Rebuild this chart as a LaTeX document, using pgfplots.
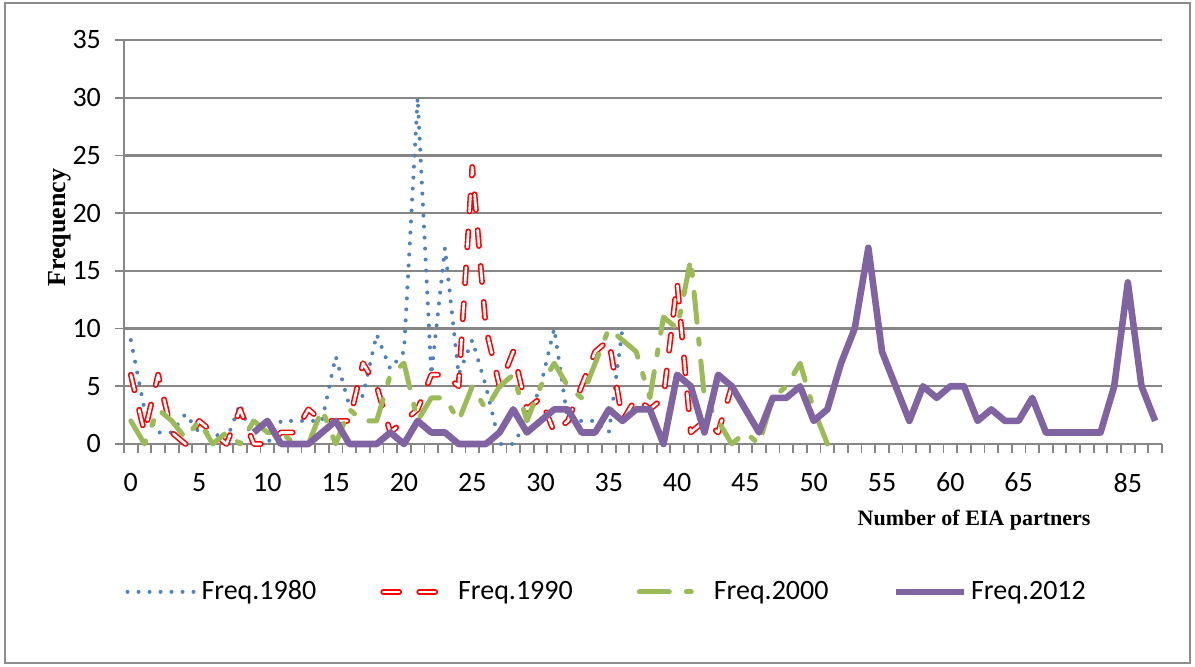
\documentclass[border=0pt]{standalone}
\usepackage{fontspec}
\setmainfont{Carlito}
\newfontfamily\serifbf{Liberation Serif}
\usepackage{pgfplots}
\pgfplotsset{compat=1.18}

\definecolor{c1980}{HTML}{4F81BD}
\definecolor{c1990}{HTML}{FF0000}
\definecolor{c2000}{HTML}{9BBB59}
\definecolor{c2012}{HTML}{8064A2}
\definecolor{gridgray}{HTML}{868686}
\definecolor{framegray}{HTML}{8C8C8C}

\begin{document}
\begin{tikzpicture}
% page frame, 1px = 0.5pt
\path (0pt,0pt) rectangle (597.5pt,-333.5pt);
\draw[framegray, line width=1pt] (2.5pt,-1.5pt) rectangle (595pt,-331.5pt);
\begin{axis}[
    at={(62pt,-222pt)}, anchor=south west,
    scale only axis, width=519pt, height=202pt,
    xmin=-0.5, xmax=75.5, ymin=0, ymax=35,
    axis lines=left,
    axis line style={-, draw=gridgray, line width=1.1pt},
    xtick={0,5,10,15,20,25,30,35,40,45,50,55,60,65,73},
    xticklabels={0,5,10,15,20,25,30,35,40,45,50,55,60,65,85},
    ytick={0,5,...,35},
    minor xtick={-0.5,0.5,...,75.5},
    minor ytick={0,5,...,35},
    major tick length=0pt, minor tick length=4.5pt,
    tick align=outside,
    every tick/.style={draw=gridgray, line width=0.9pt},
    ymajorgrids, grid style={draw=gridgray, line width=1.1pt},
    /pgf/number format/assume math mode=true,
    tick label style={font=\fontsize{14}{16}\selectfont},
    yticklabel style={anchor=east, xshift=-8pt},
    xticklabel style={anchor=north, yshift=-11pt},
    xlabel={Number of EIA partners},
    xlabel style={at={(axis description cs:0.819,-0.188)}, anchor=center,
        font=\serifbf\bfseries\fontsize{11}{13}\selectfont},
    ylabel={Frequency},
    ylabel style={at={(axis description cs:-0.0617,0.535)}, anchor=center,
        font=\serifbf\bfseries\fontsize{13}{15}\selectfont},
    clip=false,
    legend columns=4,
    legend style={at={(axis description cs:0.466,-0.366)}, anchor=center,
        draw=none, fill=none, font=\fontsize{14}{16}\selectfont,
        /tikz/every even column/.append style={column sep=30pt}},
    legend image code/.code={\draw[#1] (0pt,0pt) -- (34pt,0pt);},
]
\addplot[c1980, line width=2pt, line cap=round, dash pattern=on 0pt off 5.5pt]
coordinates {
(0,9)(1,3)(2,1)(3,1)(4,2.6)(5,1)(6,1)(7,0.3)(8,3.5)(9,0)(10,0)(11,2)(12,2)
(13,2)(14,2)(15,7.6)(16,3.3)(17,4.2)(18,9.5)(19,6.5)(20,8)(21,30)(22,6)
(23,17)(24,6)(25,9)(26,5)(27,0)(28,0)(29,2)(30,5)(31,10)(32,2)(33,2)(34,2)
(35,1)(36,10)
};
\addlegendentry{Freq.1980}
\addplot[c1990, line width=0.8pt, double=white, double distance=1.3pt,
    line cap=round, line join=round, dash pattern=on 8pt off 10pt]
coordinates {
(0,6)(1,1)(2,6)(3,1)(4,0)(5,2)(6,1)(7,0)(8,3)(9,0)(10,0)(11,1)(12,1)(13,3)
(14,2)(15,2)(16,2)(17,7)(18,5)(19,1)(20,2)(21,3)(22,6)(23,6)(24,5)(25,24)
(26,10)(27,5)(28,8)(29,3)(30,4)(31,1)(32,2)(33,5)(34,8)(35,9)(36,2)(37,4)
(38,3)(39,4)(40,14)(41,1)(42,2)(43,1)(44,5)
};
\addlegendentry{Freq.1990}
\addplot[c2000, line width=2.5pt, line cap=round, line join=round,
    dash pattern=on 15pt off 8.5pt on 2.5pt off 8.5pt]
coordinates {
(0,2)(1,0)(2,3)(3,2)(4,0.5)(5,2)(6,0)(7,1)(8,0)(9,2)(10,1)(11,1)(12,0)(13,0)
(14,3)(15,0)(16,3)(17,2)(18,2)(19,6)(20,7)(21,2)(22,4)(23,4)(24,2)(25,5)
(26,3)(27,5)(28,6)(29,2)(30,5)(31,7)(32,5)(33,4)(34,7)(35,10)(36,9)(37,8)
(38,4)(39,11)(40,10)(41,16)(42,4)(43,2)(44,0)(45,1)(46,0)(47,4)(48,5)(49,7)
(50,3)(51,0)
};
\addlegendentry{Freq.2000}
\addplot[c2012, line width=3.3pt, line join=round]
coordinates {
(9,1)(10,2)(11,0)(12,0)(13,0)(14,1)(15,2)(16,0)(17,0)(18,0)(19,1)(20,0)
(21,2)(22,1)(23,1)(24,0)(25,0)(26,0)(27,1)(28,3)(29,1)(30,2)(31,3)(32,3)
(33,1)(34,1)(35,3)(36,2)(37,3)(38,3)(39,0)(40,6)(41,5)(42,1)(43,6)(44,5)
(45,3)(46,1)(47,4)(48,4)(49,5)(50,2)(51,3)(52,7)(53,10)(54,17)(55,8)(56,5)
(57,2)(58,5)(59,4)(60,5)(61,5)(62,2)(63,3)(64,2)(65,2)(66,4)(67,1)(68,1)
(69,1)(70,1)(71,1)(72,5)(73,14)(74,5)(75,2)
};
\addlegendentry{Freq.2012}
\end{axis}
\end{tikzpicture}
\end{document}
